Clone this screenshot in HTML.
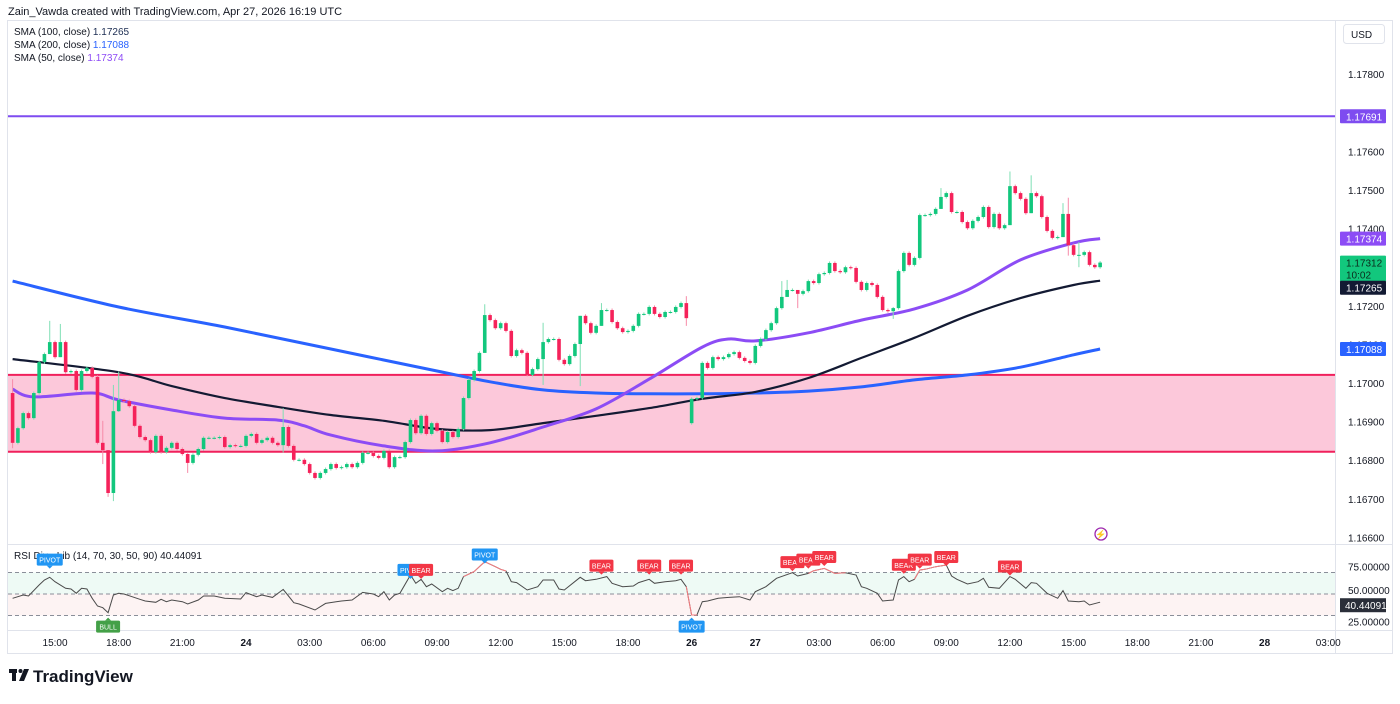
<!DOCTYPE html>
<html><head><meta charset="utf-8"><style>
html,body{margin:0;padding:0;background:#fff;}
body{width:1400px;height:699px;overflow:hidden;font-family:"Liberation Sans",sans-serif;}
svg text{font-family:"Liberation Sans",sans-serif;}
</style></head><body>
<svg id="chart" width="1400" height="699" xmlns="http://www.w3.org/2000/svg">
<rect x="0" y="0" width="1400" height="699" fill="#fff"/>
<text x="8" y="15" font-size="11" fill="#131722">Zain_Vawda created with TradingView.com, Apr 27, 2026 16:19 UTC</text>
<rect x="7.5" y="20.5" width="1385" height="633" fill="none" stroke="#e0e3eb"/>
<line x1="1335.5" y1="20" x2="1335.5" y2="653" stroke="#e0e3eb"/>
<line x1="8" y1="544.5" x2="1392" y2="544.5" stroke="#e0e3eb"/>
<line x1="8" y1="630.5" x2="1392" y2="630.5" stroke="#e0e3eb"/>
<g id="legend">
<text x="14" y="35" font-size="10" fill="#131722">SMA (100, close) <tspan fill="#1c2d52">1.17265</tspan></text>
<text x="14" y="48" font-size="10" fill="#131722">SMA (200, close) <tspan fill="#2962ff">1.17088</tspan></text>
<text x="14" y="61" font-size="10" fill="#131722">SMA (50, close) <tspan fill="#8e4cf6">1.17374</tspan></text>
</g>
<rect x="1343.5" y="24.5" width="41" height="19" rx="3" fill="#fff" stroke="#e0e3eb"/>
<text x="1351" y="38" font-size="10" fill="#131722">USD</text>
<g id="zones"></g>
<g id="smas"></g>
<g id="candles"></g>
<g id="paxis"></g>
<g id="rsi"></g>
<g id="taxis"></g>
<g>
<circle cx="1101" cy="534" r="6" fill="none" stroke="#9c27b0" stroke-width="1.3"/>
<text x="1101" y="537.5" font-size="9" text-anchor="middle" fill="#e91e63">⚡</text>
</g>
<g>
<rect x="9" y="669" width="8" height="4" fill="#131722"/><rect x="12" y="669" width="4" height="12" fill="#131722"/>
<circle cx="20.5" cy="671" r="2" fill="#131722"/><polygon points="24,669 29,669 24,681 19,681" fill="#131722"/>
<text x="33" y="682" font-size="17" font-weight="bold" fill="#131722">TradingView</text>
</g>
</svg>
<script>
// ---- data ----
const closes = [1.16845,1.16883,1.16922,1.16909,1.16974,1.17054,1.17075,1.17106,1.17067,1.17106,
1.17028,1.17031,1.16982,1.17031,1.17039,1.17016,1.16845,1.16826,1.16715,1.16927,
1.16956,1.16953,1.16940,1.16889,1.16860,1.16852,1.16821,1.16863,1.16821,1.16832,
1.16845,1.16829,1.16816,1.16793,1.16814,1.16829,1.16858,1.16858,1.16858,1.16860,
1.16834,1.16839,1.16837,1.16837,1.16863,1.16868,1.16845,1.16852,1.16858,1.16845,
1.16839,1.16886,1.16837,1.16801,1.16801,1.16790,1.16767,1.16754,1.16767,1.16777,
1.16790,1.16780,1.16782,1.16790,1.16782,1.16793,1.16819,1.16819,1.16811,1.16806,
1.16824,1.16782,1.16808,1.16808,1.16847,1.16904,1.16870,1.16915,1.16868,1.16896,
1.16876,1.16847,1.16873,1.16860,1.16881,1.16961,1.17008,1.17031,1.17078,1.17176,
1.17163,1.17142,1.17155,1.17135,1.17070,1.17085,1.17078,1.17021,1.17036,1.17062,
1.17106,1.17114,1.17114,1.17060,1.17049,1.17070,1.17101,1.17174,1.17155,1.17130,
1.17148,1.17189,1.17189,1.17158,1.17142,1.17132,1.17135,1.17148,1.17179,1.17179,
1.17197,1.17179,1.17171,1.17184,1.17184,1.17197,1.17207,1.17168,1.16959,1.16961,
1.17052,1.17039,1.17067,1.17062,1.17067,1.17075,1.17080,1.17065,1.17057,1.17052,
1.17096,1.17114,1.17137,1.17155,1.17194,1.17223,1.17241,1.17241,1.17231,1.17238,
1.17264,1.17259,1.17282,1.17285,1.17311,1.17290,1.17287,1.17300,1.17298,1.17262,
1.17241,1.17259,1.17254,1.17223,1.17189,1.17186,1.17194,1.17290,1.17337,1.17306,
1.17324,1.17435,1.17435,1.17438,1.17451,1.17482,1.17492,1.17443,1.17443,1.17417,
1.17401,1.17420,1.17430,1.17456,1.17404,1.17438,1.17401,1.17409,1.17510,1.17492,
1.17477,1.17440,1.17492,1.17484,1.17430,1.17394,1.17376,1.17378,1.17438,1.17357,
1.17332,1.17332,1.17339,1.17306,1.17300,1.17312];
const firstOpen = 1.16974;
const gapIndex = 128;
const gapOpen = 1.16896;
const wickIdx  = [0, 7, 9, 17, 18, 19, 20, 33, 51, 89, 100, 107, 111, 127, 145, 146, 148, 166, 175, 188, 192, 198, 199, 201];
const wickHigh = [1.17010,1.17161,1.17153,1.16902,1.16826,1.16995,1.17030,1.16818,1.16935,1.17204,1.17156,1.17101,1.17207,1.17225,1.17264,1.17267,1.17238,1.17197,1.17505,1.17548,1.17538,1.17466,1.17480,1.17365];
const wickLow  = [1.16831,1.17075,1.17067,1.16790,1.16705,1.16694,1.16925,1.16767,1.16820,1.17078,1.16995,1.16992,1.17160,1.17148,1.17190,1.17223,1.17194,1.17166,1.17451,1.17451,1.17440,1.17410,1.17330,1.17300];

const sma200Idx = [0,20,40,60,80,90,100,110,120,130,140,150,160,170,180,190,200,205];
const sma200Val = [1.17264,1.17197,1.17145,1.17088,1.17031,1.17003,1.16982,1.16974,1.16972,1.16972,1.16974,1.16979,1.16990,1.17008,1.17021,1.17041,1.17073,1.17088];
const sma100Idx = [0,20,30,40,50,60,70,80,90,100,110,120,130,140,150,160,170,180,190,200,205];
const sma100Val = [1.17062,1.17028,1.16992,1.16961,1.16938,1.16917,1.16902,1.16881,1.16878,1.16896,1.16915,1.16935,1.16959,1.16977,1.17013,1.17065,1.17117,1.17174,1.17220,1.17254,1.17265];
const sma50Idx = [0,4,15,20,30,40,50,55,60,70,80,90,100,110,120,130,135,140,150,160,170,180,190,200,205];
const sma50Val = [1.16984,1.16964,1.16974,1.16956,1.16930,1.16909,1.16904,1.16889,1.16865,1.16837,1.16824,1.16845,1.16886,1.16933,1.17010,1.17093,1.17114,1.17109,1.17130,1.17163,1.17192,1.17241,1.17319,1.17363,1.17374];

const resistanceLevel = 1.17691;
const zoneTop = 1.17021;
const zoneBottom = 1.16822;

const priceTicks = [1.178,1.177,1.176,1.175,1.174,1.173,1.172,1.171,1.170,1.169,1.168,1.167,1.166];
const timeLabels = ["15:00","18:00","21:00","24","03:00","06:00","09:00","12:00","15:00","18:00","26","27","03:00","06:00","09:00","12:00","15:00","18:00","21:00","28","03:00"];
const timeLabelIdx = [8,20,32,44,56,68,80,92,104,116,128,140,152,164,176,188,200,212,224,236,248];

const rsiIdx = [0,2,3,5,6,7,8,10,11,12,13,14,15,16,17,18,19,20,21,24,25,27,28,29,30,32,33,35,36,38,40,43,44,46,47,49,51,52,53,54,57,59,61,62,64,66,68,69,70,71,72,73,75,76,77,78,79,81,82,83,84,85,87,89,91,92,93,94,95,97,99,100,102,103,104,107,108,110,112,113,115,117,118,120,121,123,125,126,127,128,129,130,131,133,135,137,139,140,142,144,147,148,150,151,153,155,157,159,160,161,163,164,166,167,168,169,170,171,172,174,176,177,178,180,182,183,184,186,188,189,191,192,193,195,197,198,199,201,202,203,205];
const rsiVal = [45,48.8,47.7,60.5,66.3,69.4,64.3,56.6,55.8,50.8,56.6,55.8,45,36,34.1,28.3,48.8,50.8,50,43.8,41.9,40.3,43.8,41.1,43,41.1,38.4,43,47.7,47.7,45,44.2,51.6,46.9,48.8,46.1,55.4,47.7,39.9,38.4,31.4,39.1,41.1,41.9,43,51.9,50,46.9,52.7,43,48.8,50.8,72.1,62.4,67.1,58.5,61.6,52.7,56.6,53.9,56.6,70.2,76,87.6,81.8,78.7,76.7,64.3,63.2,54.7,58.5,66.3,66.3,55.8,54.7,69.4,65.5,67.1,70.2,62.4,58.5,59.3,63.2,67.1,62.4,64.3,65.5,67.1,58.5,25.6,25.6,41.1,41.9,45,46.1,46.9,43,52.7,58.5,68.2,74.8,70.9,74,77.1,79.8,74,74.8,72.1,58.5,56.6,50.8,41.9,43,66.3,70.2,64.3,67.1,77.9,78.7,81.8,83.7,70.9,67.1,61.6,64.3,68.2,57.8,56.6,70.2,67.1,56.6,63.2,62.4,50.8,45,53.9,41.9,41.1,41.9,37.2,40.44];
const rsiRedStart = [85,127,150,170];
const rsiRedEnd   = [93,129,157,176];
const sigText = ["PIVOT","BULL","PIVOT","BEAR","PIVOT","BEAR","BEAR","BEAR","PIVOT","BEAR","BEAR","BEAR","BEAR","BEAR","BEAR","BEAR"];
const sigIdx  = [7,18,75,77,89,111,120,126,128,147,150,153,168,171,176,188];
const sigVal  = [90,12,78,78,96,83,83,83,12,87,90,93,84,90,93,82];

// ---- scales ----
const NS = "http://www.w3.org/2000/svg";
const X = i => 12.6 + i * 5.305;
const Y = p => 383 - (p - 1.17) * 38600;
const RY = v => 594 - (v - 50) * 0.86;
function mk(tag, attrs, parent) { const e = document.createElementNS(NS, tag); for (const k in attrs) e.setAttribute(k, attrs[k]); parent.appendChild(e); return e; }

// zones
const zones = document.getElementById('zones');
const zr = mk('rect', {x: 8, y: Y(zoneTop), width: 1327, height: Y(zoneBottom) - Y(zoneTop), fill: '#fcc8da'}, zones);


const zt = mk('line', {x1: 8, x2: 1335, y1: Y(zoneTop), y2: Y(zoneTop), stroke: '#f0205c', 'stroke-width': 2}, zones);


const zb = mk('line', {x1: 8, x2: 1335, y1: Y(zoneBottom), y2: Y(zoneBottom), stroke: '#f0205c', 'stroke-width': 2}, zones);


const rl = mk('line', {x1: 8, x2: 1335, y1: Y(resistanceLevel), y2: Y(resistanceLevel), stroke: '#7e4cf0', 'stroke-width': 2}, zones);



// SMAs (smooth Catmull-Rom)
const smas = document.getElementById('smas');
function smaLine(idx, val, color, w, name) {
  const pts = idx.map((i, k) => [X(i), Y(val[k])]);
  let d = 'M' + pts[0][0].toFixed(1) + ' ' + pts[0][1].toFixed(1);
  for (let k = 0; k < pts.length - 1; k++) {
    const p0 = pts[Math.max(0, k - 1)], p1 = pts[k], p2 = pts[k + 1], p3 = pts[Math.min(pts.length - 1, k + 2)];
    const c1x = p1[0] + (p2[0] - p0[0]) / 6, c1y = p1[1] + (p2[1] - p0[1]) / 6;
    const c2x = p2[0] - (p3[0] - p1[0]) / 6, c2y = p2[1] - (p3[1] - p1[1]) / 6;
    d += ` C${c1x.toFixed(1)} ${c1y.toFixed(1)} ${c2x.toFixed(1)} ${c2y.toFixed(1)} ${p2[0].toFixed(1)} ${p2[1].toFixed(1)}`;
  }
  const p = mk('path', {d: d, fill: 'none', stroke: color, 'stroke-width': w, 'stroke-linejoin': 'round'}, smas);
  
  
}
smaLine(sma200Idx, sma200Val, '#2962ff', 3, 'sma200-line');
smaLine(sma100Idx, sma100Val, '#131a33', 2.2, 'sma100-line');
smaLine(sma50Idx, sma50Val, '#8c4cf5', 3, 'sma50-line');

// candles
const cg = document.getElementById('candles');
for (let i = 0; i < closes.length; i++) {
  const o = i === 0 ? firstOpen : (i === gapIndex ? gapOpen : closes[i - 1]);
  const c = closes[i];
  const up = c >= o;
  const col = up ? '#12c77d' : '#f5225a';
  const k = wickIdx.indexOf(i);
  const hi = k >= 0 ? wickHigh[k] : Math.max(o, c) + 0.00004;
  const lo = k >= 0 ? wickLow[k] : Math.min(o, c) - 0.00004;
  const g = mk('g', {}, cg);
  
  
  const x = X(i);
  mk('line', {x1: x, x2: x, y1: Y(Math.max(hi, o, c)), y2: Y(Math.min(lo, o, c)), stroke: up ? '#7fdfb4' : '#f78aa8', 'stroke-width': 1}, g);
  const top = Y(Math.max(o, c)), h = Math.max(1, Math.abs(Y(o) - Y(c)));
  mk('rect', {x: x - 1.8, y: top, width: 3.6, height: h, fill: col}, g);
}

// price axis
const pa = document.getElementById('paxis');
priceTicks.forEach(p => {
  const t = mk('text', {x: 1348, y: Y(p) + 4, 'font-size': 10, fill: '#131722'}, pa);
  t.textContent = p.toFixed(5);
  
  
});
function tag(p, bg, fg, name, extra, shift) {
  const h = extra ? 26 : 14;
  const y = Y(p) - 7 + (shift || 0);
  const g = mk('g', {}, pa);
  
  
  mk('rect', {x: 1340, y: y, width: 46, height: h, fill: bg, rx: 1}, g);
  const t = mk('text', {x: 1346, y: y + 11, 'font-size': 10, fill: fg}, g);
  t.textContent = p.toFixed(5);
  if (extra) { const t2 = mk('text', {x: 1346, y: y + 23, 'font-size': 10, fill: fg}, g); t2.textContent = extra; }
}
tag(resistanceLevel, '#7e4cf0', '#fff', 'resistance-price-tag');
tag(sma50Val[sma50Val.length - 1], '#8c4cf5', '#fff', 'sma50-price-tag');
tag(closes[closes.length - 1], '#12c77d', '#0b2a1c', 'last-price-tag', '10:02');
tag(sma100Val[sma100Val.length - 1], '#131a33', '#fff', 'sma100-price-tag', null, 7);
tag(sma200Val[sma200Val.length - 1], '#2962ff', '#fff', 'sma200-price-tag');

// RSI pane
const rg = document.getElementById('rsi');
mk('rect', {x: 8, y: RY(75), width: 1327, height: RY(50) - RY(75), fill: '#eefaf5'}, rg);
mk('rect', {x: 8, y: RY(50), width: 1327, height: RY(25) - RY(50), fill: '#fdf3f3'}, rg);
[75, 50, 25].forEach(v => {
  const l = mk('line', {x1: 8, x2: 1335, y1: RY(v), y2: RY(v), stroke: '#8a8e99', 'stroke-dasharray': '4 3', 'stroke-width': 1}, rg);
  
  
  const t = mk('text', {x: 1348, y: RY(v) + (v === 75 ? -2 : (v === 25 ? 10 : 0)), 'font-size': 10, fill: '#131722'}, rg);
  t.textContent = v.toFixed(5);
  
  
});
const rsiTitle = mk('text', {x: 14, y: 559, 'font-size': 10, fill: '#131722'}, rg);
rsiTitle.textContent = 'RSI Div - Lib (14, 70, 30, 50, 90)  40.44091';


const rd = rsiIdx.map((i, k) => (k ? 'L' : 'M') + X(i).toFixed(1) + ' ' + RY(rsiVal[k]).toFixed(1)).join(' ');
const rp = mk('path', {d: rd, fill: 'none', stroke: '#4a4a4a', 'stroke-width': 1}, rg);


rsiRedStart.forEach((s, n) => {
  const pts = [];
  rsiIdx.forEach((i, k) => { if (i >= s && i <= rsiRedEnd[n]) pts.push(X(i).toFixed(1) + ' ' + RY(rsiVal[k]).toFixed(1)); });
  const seg = mk('path', {d: 'M' + pts.join(' L'), fill: 'none', stroke: '#f77c80', 'stroke-width': 1}, rg);
  
  
});
sigText.forEach((s, n) => {
  const col = s === 'BEAR' ? '#f23645' : (s === 'BULL' ? '#43a047' : '#2196f3');
  const cx = X(sigIdx[n]);
  const cy = RY(sigVal[n]);
  const below = sigVal[n] < 40;
  const g = mk('g', {}, rg);
  
  
  const w = s === 'PIVOT' ? 26 : 24;
  mk('rect', {x: cx - w / 2, y: cy - 6, width: w, height: 12, rx: 1.5, fill: col}, g);
  mk('polygon', {points: below ? `${cx-3},${cy-6} ${cx+3},${cy-6} ${cx},${cy-9}` : `${cx-3},${cy+6} ${cx+3},${cy+6} ${cx},${cy+9}`, fill: col}, g);
  const t = mk('text', {x: cx, y: cy + 3, 'font-size': 7, fill: '#fff', 'text-anchor': 'middle'}, g);
  t.textContent = s;
});
const rt = mk('g', {}, rg);


const rlast = RY(rsiVal[rsiVal.length - 1]) + 2;
mk('rect', {x: 1340, y: rlast - 6, width: 46, height: 14, fill: '#2a2e39'}, rt);
const rtt = mk('text', {x: 1345, y: rlast + 5, 'font-size': 10, fill: '#fff'}, rt);
rtt.textContent = '40.44091';

// time axis
const ta = document.getElementById('taxis');
timeLabels.forEach((l, n) => {
  const x = X(timeLabelIdx[n]);
  if (x > 1330) return;
  const t = mk('text', {x: x, y: 646, 'font-size': 10, fill: '#131722', 'text-anchor': 'middle', 'font-weight': (l.indexOf(':') < 0 ? 'bold' : 'normal')}, ta);
  t.textContent = l;
  
  
});
</script>
</body></html>
